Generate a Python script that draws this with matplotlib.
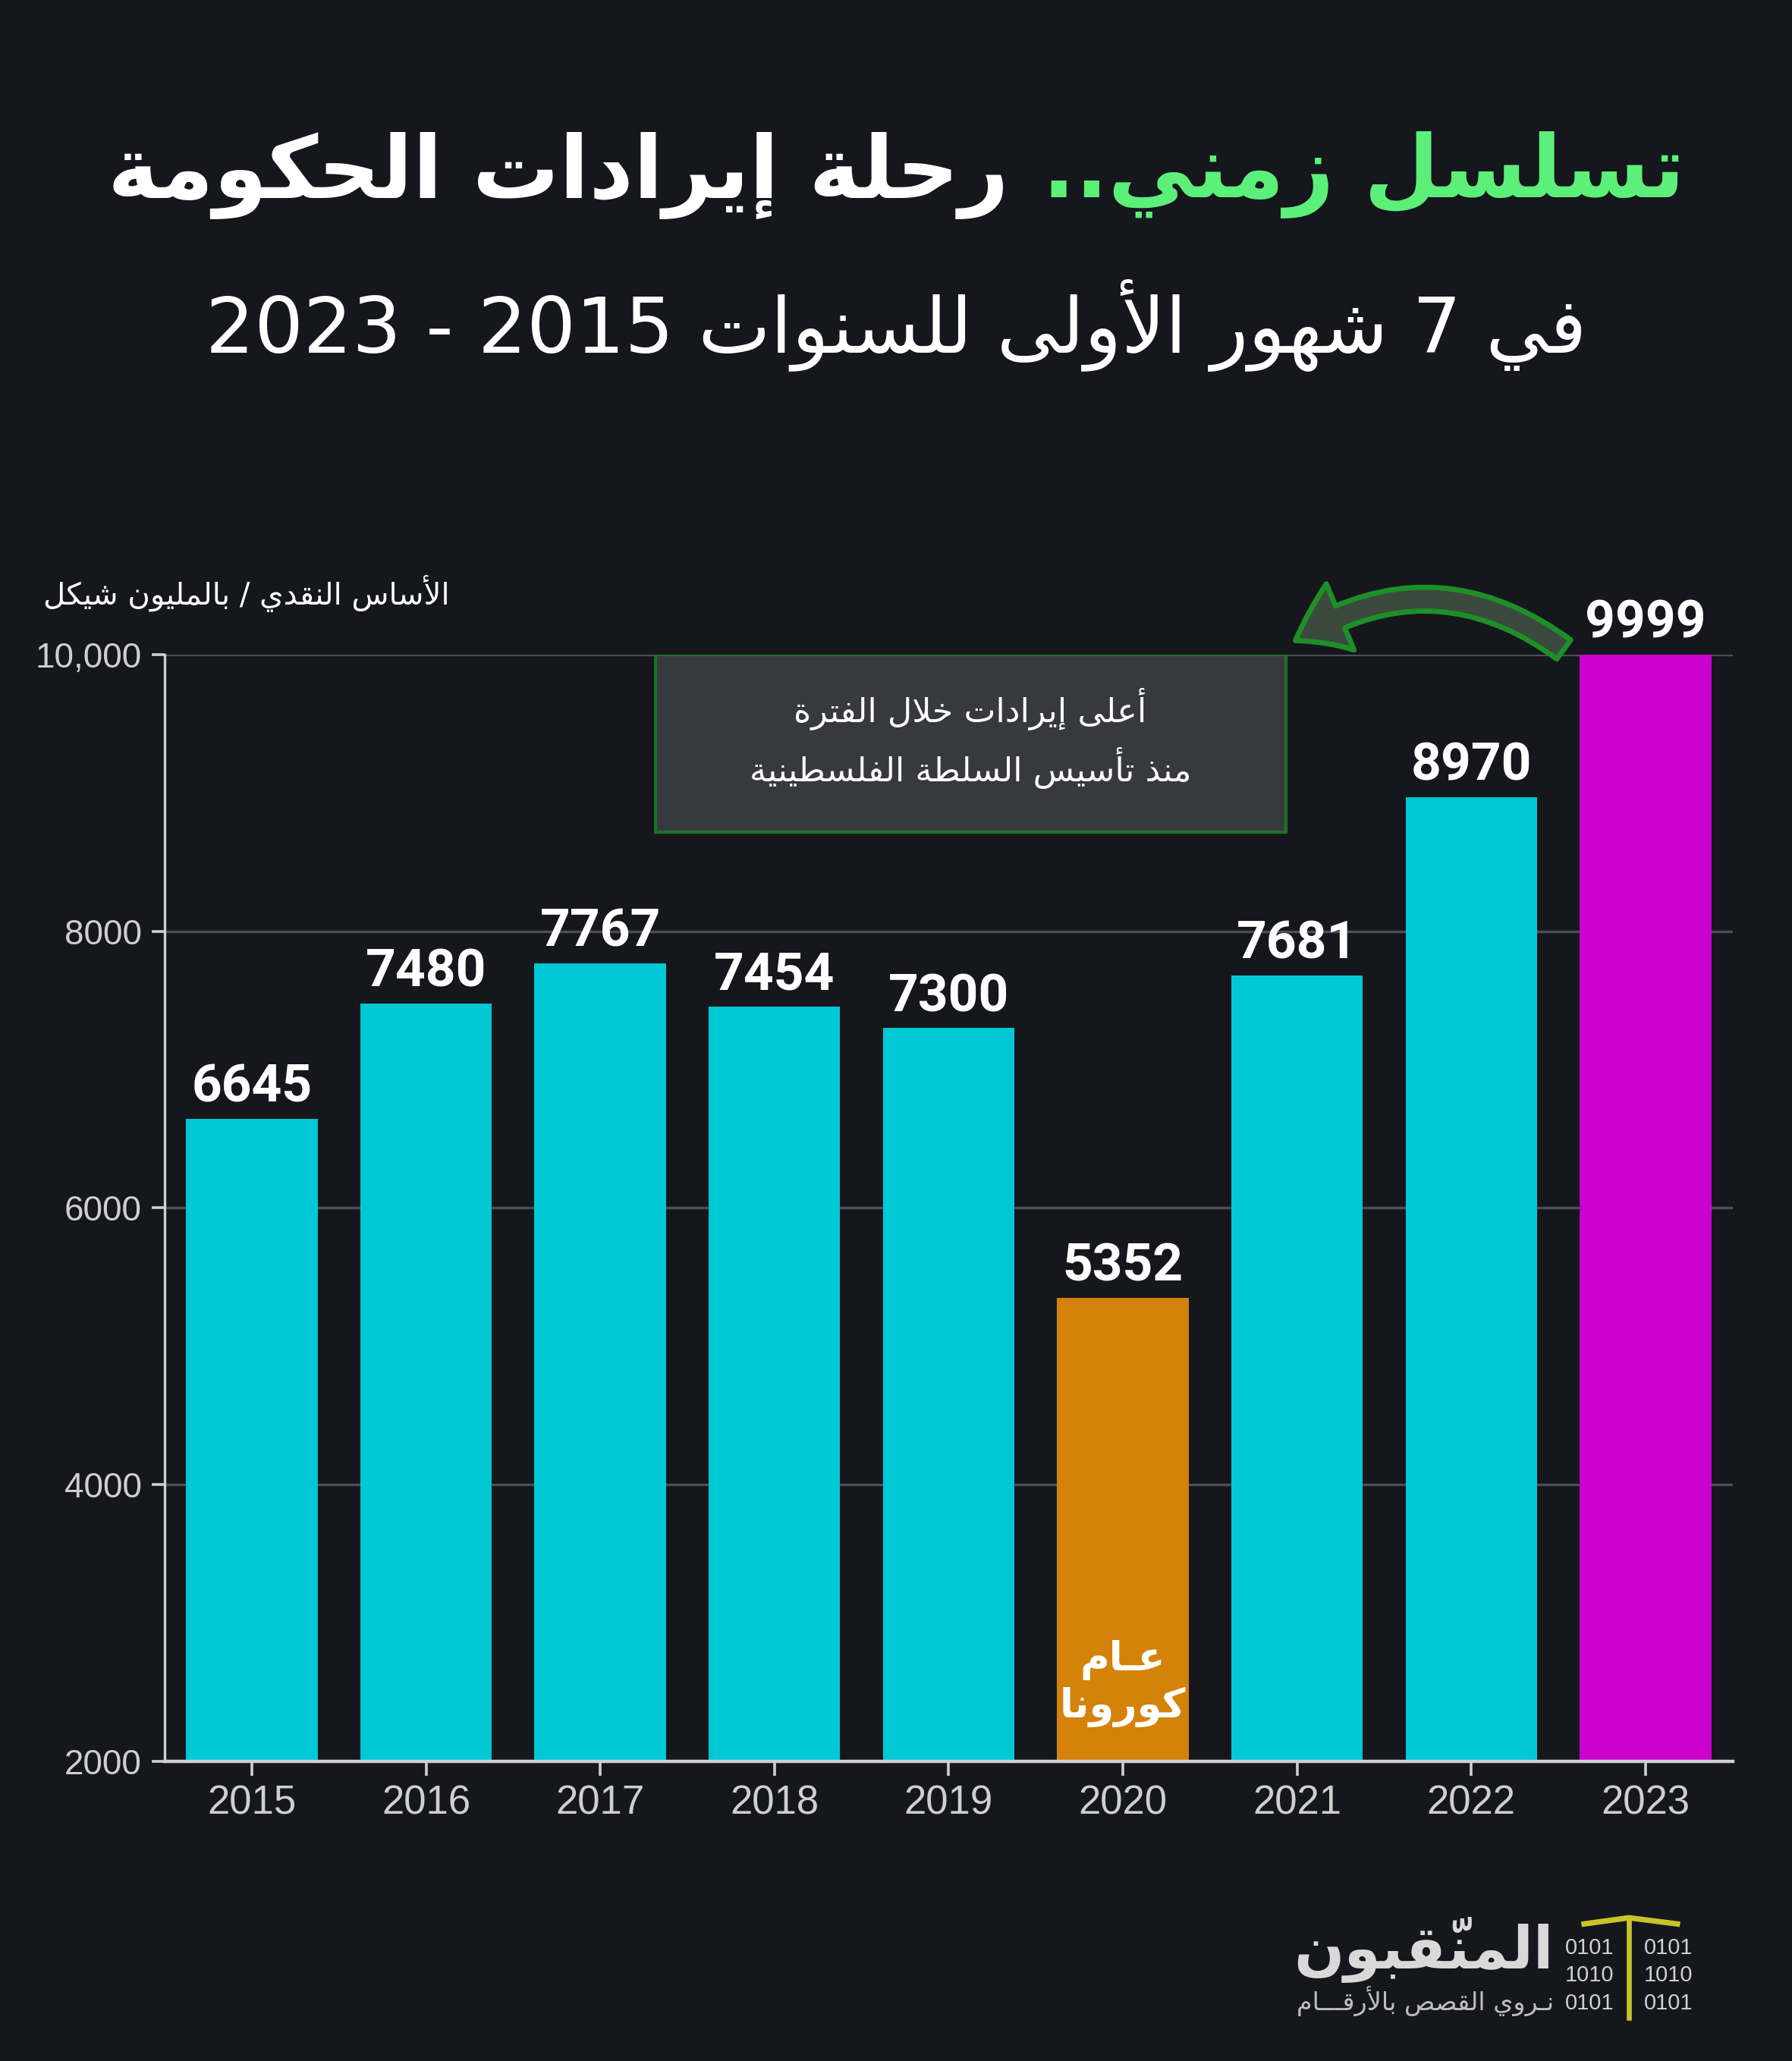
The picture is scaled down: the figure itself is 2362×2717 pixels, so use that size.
import matplotlib
matplotlib.use("Agg")
import matplotlib.pyplot as plt
from matplotlib import font_manager as fm
from matplotlib.patches import Rectangle, FancyArrowPatch
from matplotlib.lines import Line2D
from matplotlib.offsetbox import TextArea, HPacker, AnchoredOffsetbox

# data
years = ["2015", "2016", "2017", "2018", "2019", "2020", "2021", "2022", "2023"]
revenue = [6645, 7480, 7767, 7454, 7300, 5352, 7681, 8970, 9999]
bar_colors = ["#00c8d4"] * 5 + ["#d4820a"] + ["#00c8d4"] * 2 + ["#cc00cc"]
ytick_vals = [2000, 4000, 6000, 8000, 10000]
ytick_labels = ["2000", "4000", "6000", "8000", "10,000"]

title_green = "تسلسل زمني.."
title_white = "رحلة إيرادات الحكومة"
subtitle = "في 7 شهور الأولى للسنوات 2015 - 2023"
unit_label = "الأساس النقدي / بالمليون شيكل"
note_lines = ["أعلى إيرادات خلال الفترة", "منذ تأسيس السلطة الفلسطينية"]
covid_lines = ["عـام", "كورونا"]
logo_name = "المنقّبون"
logo_tag = "نـروي القصص بالأرقـــام"
logo_bits = ["0101", "1010", "0101"]

# --- minimal arabic shaping (matplotlib has no text shaping) ---
FORMS = {
    'ء': ('\uFE80', None, None, None), 'آ': ('\uFE81', '\uFE82', None, None),
    'أ': ('\uFE83', '\uFE84', None, None), 'ؤ': ('\uFE85', '\uFE86', None, None),
    'إ': ('\uFE87', '\uFE88', None, None), 'ئ': ('\uFE89', '\uFE8A', '\uFE8B', '\uFE8C'),
    'ا': ('\uFE8D', '\uFE8E', None, None), 'ب': ('\uFE8F', '\uFE90', '\uFE91', '\uFE92'),
    'ة': ('\uFE93', '\uFE94', None, None), 'ت': ('\uFE95', '\uFE96', '\uFE97', '\uFE98'),
    'ث': ('\uFE99', '\uFE9A', '\uFE9B', '\uFE9C'), 'ج': ('\uFE9D', '\uFE9E', '\uFE9F', '\uFEA0'),
    'ح': ('\uFEA1', '\uFEA2', '\uFEA3', '\uFEA4'), 'خ': ('\uFEA5', '\uFEA6', '\uFEA7', '\uFEA8'),
    'د': ('\uFEA9', '\uFEAA', None, None), 'ذ': ('\uFEAB', '\uFEAC', None, None),
    'ر': ('\uFEAD', '\uFEAE', None, None), 'ز': ('\uFEAF', '\uFEB0', None, None),
    'س': ('\uFEB1', '\uFEB2', '\uFEB3', '\uFEB4'), 'ش': ('\uFEB5', '\uFEB6', '\uFEB7', '\uFEB8'),
    'ص': ('\uFEB9', '\uFEBA', '\uFEBB', '\uFEBC'), 'ض': ('\uFEBD', '\uFEBE', '\uFEBF', '\uFEC0'),
    'ط': ('\uFEC1', '\uFEC2', '\uFEC3', '\uFEC4'), 'ظ': ('\uFEC5', '\uFEC6', '\uFEC7', '\uFEC8'),
    'ع': ('\uFEC9', '\uFECA', '\uFECB', '\uFECC'), 'غ': ('\uFECD', '\uFECE', '\uFECF', '\uFED0'),
    'ف': ('\uFED1', '\uFED2', '\uFED3', '\uFED4'), 'ق': ('\uFED5', '\uFED6', '\uFED7', '\uFED8'),
    'ك': ('\uFED9', '\uFEDA', '\uFEDB', '\uFEDC'), 'ل': ('\uFEDD', '\uFEDE', '\uFEDF', '\uFEE0'),
    'م': ('\uFEE1', '\uFEE2', '\uFEE3', '\uFEE4'), 'ن': ('\uFEE5', '\uFEE6', '\uFEE7', '\uFEE8'),
    'ه': ('\uFEE9', '\uFEEA', '\uFEEB', '\uFEEC'), 'و': ('\uFEED', '\uFEEE', None, None),
    'ى': ('\uFEEF', '\uFEF0', None, None), 'ي': ('\uFEF1', '\uFEF2', '\uFEF3', '\uFEF4'),
}
LAM_ALEF = {'آ': ('\uFEF5', '\uFEF6'), 'أ': ('\uFEF7', '\uFEF8'),
            'إ': ('\uFEF9', '\uFEFA'), 'ا': ('\uFEFB', '\uFEFC')}


def joins_prev(b):
    return (b in FORMS and b != 'ء') or b.startswith('LA') or b == 'ـ'


def joins_next(b):
    return (b in FORMS and FORMS[b][2] is not None) or b == 'ـ'


def shape(word):
    units = []
    for ch in word:
        if '\u064B' <= ch <= '\u0652' and units:
            units[-1][1] += ch
        else:
            units.append([ch, ''])
    merged = []
    i = 0
    while i < len(units):
        b, m = units[i]
        if b == 'ل' and i + 1 < len(units) and units[i + 1][0] in LAM_ALEF:
            merged.append(['LA' + units[i + 1][0], m + units[i + 1][1]])
            i += 2
        else:
            merged.append([b, m])
            i += 1
    out = []
    for i, (b, m) in enumerate(merged):
        prev = merged[i - 1][0] if i > 0 else None
        nxt = merged[i + 1][0] if i + 1 < len(merged) else None
        jp = prev is not None and joins_next(prev) and joins_prev(b)
        jn = nxt is not None and joins_next(b) and joins_prev(nxt)
        if b.startswith('LA'):
            g = LAM_ALEF[b[2]][1 if jp else 0]
        elif b in FORMS:
            iso, fin, ini, med = FORMS[b]
            g = med if (jp and jn) else fin if jp else ini if jn else iso
        else:
            g = b
        out.append(g + m)
    return out


def ar(text):
    vis = []
    for w in text.split(' '):
        if not any('\u0600' <= c <= '\u06FF' for c in w):
            vis.append(w)
        else:
            vis.append(''.join(reversed(shape(w))))
    return ' '.join(reversed(vis))


names = {f.name for f in fm.fontManager.ttflist}
num_font = 'Roboto' if 'Roboto' in names else 'DejaVu Sans'
narrow = 'Liberation Sans Narrow' if 'Liberation Sans Narrow' in names else 'Liberation Sans'
AR = 'DejaVu Sans'

bg = "#15171d"
fig = plt.figure(figsize=(11.81, 13.585), dpi=200, facecolor=bg)

# title
ta_w = TextArea(ar(title_white), textprops=dict(color="white", fontsize=41, fontweight="bold", family=AR))
ta_g = TextArea(ar(title_green), textprops=dict(color="#5cf07a", fontsize=41, fontweight="bold", family=AR))
box = HPacker(children=[ta_w, ta_g], align="baseline", pad=0, sep=16)
fig.add_artist(AnchoredOffsetbox(loc="center", child=box, frameon=False, pad=0,
                                 bbox_to_anchor=(0.5, 0.915), bbox_transform=fig.transFigure))
fig.text(0.5, 0.842, ar(subtitle), color="white", fontsize=36.5, family=AR, ha="center", va="center")
fig.text(0.024, 0.712, ar(unit_label), color="white", fontsize=14.5, family=AR, ha="left", va="center")

ax = fig.add_axes([0.0919, 0.1454, 0.875, 0.537])
ax.set_facecolor("none")
x = list(range(len(years)))
ax.bar(x, revenue, width=0.755, color=bar_colors, zorder=3)
for xi, v in zip(x, revenue):
    ax.annotate(str(v), (xi, v), xytext=(0, 3), textcoords="offset points", ha="center", va="bottom",
                fontsize=25, fontweight="bold", color="white", family=num_font, zorder=5)

ax.set_xlim(-0.5, len(years) - 0.5)
ax.set_ylim(2000, 10000)
ax.set_xticks(x, years)
ax.set_yticks(ytick_vals, ytick_labels)
ax.tick_params(axis="x", colors="#cfcfcf", labelsize=19, length=7, width=1.3, pad=4)
ax.tick_params(axis="y", colors="#cfcfcf", labelsize=16.5, length=6, width=1.3, pad=5)
for lab in ax.get_xticklabels() + ax.get_yticklabels():
    lab.set_family(narrow)
ax.yaxis.grid(True, color="#4c4f57", lw=1.2)
ax.set_axisbelow(True)
for s in ["top", "right"]:
    ax.spines[s].set_visible(False)
ax.spines["left"].set_color("#cfcfcf")
ax.spines["left"].set_linewidth(1.2)
ax.spines["bottom"].set_color("#cfcfcf")
ax.spines["bottom"].set_linewidth(1.6)
ax.spines["bottom"].set_zorder(4)

# note box
ax.add_patch(Rectangle((2.315, 8717), 3.62, 1283, facecolor="#3b3d42", edgecolor="#1d7a25",
                       lw=1.5, alpha=0.9, zorder=4))
ax.text(4.125, 9396, ar(note_lines[0]) + "\n" + ar(note_lines[1]), ha="center", va="center",
        color="white", fontsize=16, family=AR, linespacing=1.5, zorder=5)

# curved arrow
arrow = FancyArrowPatch((7.55, 10019), (5.97, 10085), connectionstyle="arc3,rad=0.35",
                        arrowstyle="simple,head_length=0.6,head_width=0.85,tail_width=0.28",
                        mutation_scale=40, fc="#3b4a3d", ec="#1e8f26", lw=2.5, clip_on=False, zorder=6)
ax.add_patch(arrow)

# covid label
ax.text(5, 2560, ar(covid_lines[0]) + "\n" + ar(covid_lines[1]), ha="center", va="center",
        color="white", fontsize=19, fontweight="bold", family=AR, linespacing=1.2, zorder=5)

# logo
fig.text(0.867, 0.054, ar(logo_name), ha="right", va="center", color="#d9d9d9",
         fontsize=28, fontweight="bold", family=AR)
fig.text(0.867, 0.029, ar(logo_tag), ha="right", va="center", color="#bdbdbd", fontsize=12, family=AR)
for row, yy in zip(logo_bits, [0.055, 0.0415, 0.028]):
    fig.text(0.887, yy, row, ha="center", va="center", color="#d0d0d0", fontsize=10.5, family=narrow)
    fig.text(0.931, yy, row, ha="center", va="center", color="#d0d0d0", fontsize=10.5, family=narrow)
fig.add_artist(Line2D([0.909, 0.909], [0.021, 0.068], color="#c9c42a", lw=2.4, transform=fig.transFigure))
fig.add_artist(Line2D([0.884, 0.909, 0.936], [0.0665, 0.0695, 0.0665], color="#c9c42a", lw=2.6,
                      transform=fig.transFigure))

fig.savefig("out.png", dpi=200, facecolor=bg)
